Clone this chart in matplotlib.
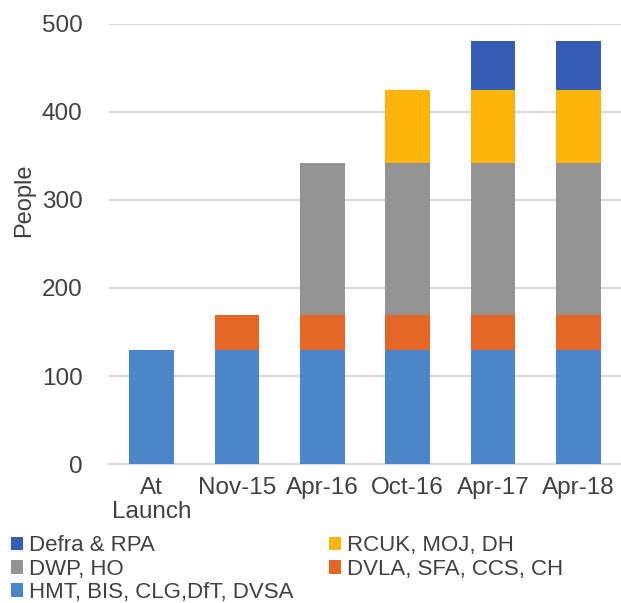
import matplotlib.pyplot as plt
import numpy as np

plt.rcParams['font.family'] = ['Liberation Sans', 'DejaVu Sans']

# Dataset values
categories = ['At\nLaunch', 'Nov-15', 'Apr-16', 'Oct-16', 'Apr-17', 'Apr-18']
hmt = [130, 130, 130, 130, 130, 130]
dvla = [0, 39, 39, 39, 39, 39]
dwp = [0, 0, 173, 173, 173, 173]
rcuk = [0, 0, 0, 83, 83, 83]
defra = [0, 0, 0, 0, 55, 55]

series = [
    ('HMT, BIS, CLG,DfT, DVSA', hmt, '#4A86C8'),
    ('DVLA, SFA, CCS, CH', dvla, '#E46726'),
    ('DWP, HO', dwp, '#939393'),
    ('RCUK, MOJ, DH', rcuk, '#FDB40B'),
    ('Defra & RPA', defra, '#355DB5'),
]

fig = plt.figure(figsize=(6.21, 6.03), dpi=100)
ax = fig.add_axes([0.1755, 0.230, 0.8245, 0.731])

x = np.arange(len(categories))
bottom = np.zeros(len(categories))
handles = {}
for label, vals, color in series:
    vals = np.array(vals, dtype=float)
    b = ax.bar(x, vals, width=0.52, bottom=bottom, color=color, label=label, zorder=3)
    handles[label] = b
    bottom += vals

ax.set_ylim(0, 500)
ax.set_xlim(-0.5, len(categories) - 0.5)
ax.set_yticks([0, 100, 200, 300, 400, 500])
ax.set_xticks(x)
ax.set_xticklabels(categories, fontsize=17.5, color='#404040', linespacing=1.1)
ax.tick_params(axis='y', labelsize=17.5, labelcolor='#404040', length=0, pad=19)
ax.tick_params(axis='x', length=0, pad=9)
ax.grid(axis='y', color='#d9d9d9', linewidth=1.5, zorder=0)
for s in ['top', 'right', 'left']:
    ax.spines[s].set_visible(False)
ax.spines['bottom'].set_color('#d9d9d9')
ax.spines['bottom'].set_linewidth(1.5)
ax.set_ylabel('People', fontsize=17, color='#404040')
ax.yaxis.set_label_coords(-0.145, 0.60)

# Legend in row-major order: Defra, RCUK / DWP, DVLA / HMT
order = ['Defra & RPA', 'DWP, HO', 'HMT, BIS, CLG,DfT, DVSA', 'RCUK, MOJ, DH', 'DVLA, SFA, CCS, CH']
fig.legend([handles[k] for k in order], order, ncol=2, loc='upper left',
           bbox_to_anchor=(0.018, 0.112), frameon=False, fontsize=16,
           handlelength=0.55, handleheight=0.55, handletextpad=0.25,
           columnspacing=1.6, labelspacing=0.1, borderaxespad=0, borderpad=0,
           labelcolor='#404040')

plt.savefig('out.png', dpi=100)
